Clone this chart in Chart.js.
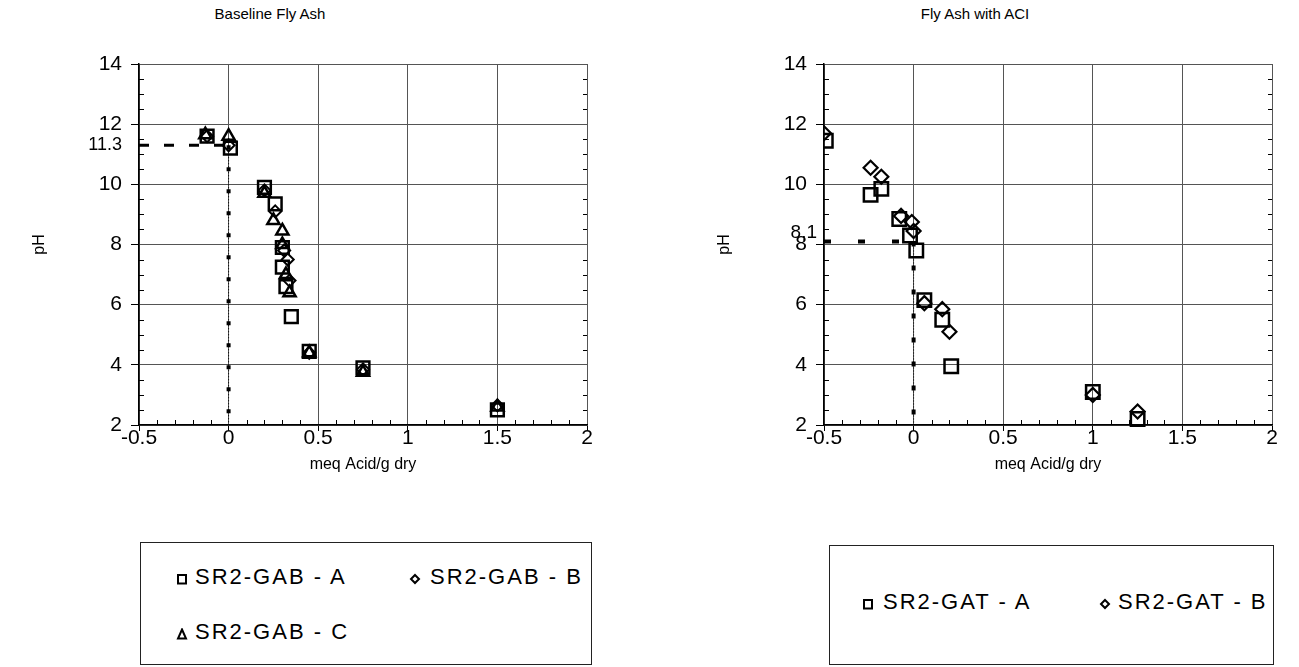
<!DOCTYPE html>
<html><head><meta charset="utf-8">
<script src="https://cdn.jsdelivr.net/npm/chart.js@4"></script>
<style>
body{margin:0;background:#fff;}
#wrap{position:relative;width:1299px;height:667px;overflow:hidden;background:#fff;font-family:"Liberation Sans",Arial,sans-serif;color:#000;}
.cv{position:absolute;top:0;}
.title{position:absolute;top:5px;font-size:15px;white-space:nowrap;transform:translateX(-50%);}
.legend{position:absolute;border:1px solid #222;box-sizing:border-box;}
.mk{position:absolute;width:12px;height:12px;}
.txt{position:absolute;font-size:22px;letter-spacing:2px;white-space:nowrap;line-height:26px;}
</style></head>
<body>
<div id="wrap">
  <div class="title" style="left:270px">Baseline Fly Ash</div>
  <div class="title" style="left:975px">Fly Ash with ACI</div>
  <div class="cv" style="left:0;width:614px;height:540px"><canvas id="c1"></canvas></div>
  <div class="cv" style="left:685px;width:614px;height:540px"><canvas id="c2"></canvas></div>
  <div class="legend" id="leg1" style="left:140px;top:542px;width:452px;height:123px"></div>
  <div class="legend" id="leg2" style="left:829px;top:545px;width:445px;height:120px"></div>
</div>
<script>
// ---- data ----
const xTicks = [-0.5, 0, 0.5, 1, 1.5, 2];
const yTicks = [2, 4, 6, 8, 10, 12, 14];

// Baseline Fly Ash
const gabA_x = [-0.12, 0.01, 0.2, 0.26, 0.3, 0.3, 0.32, 0.35, 0.45, 0.75, 1.5];
const gabA_y = [11.6, 11.2, 9.9, 9.35, 7.9, 7.25, 6.6, 5.6, 4.45, 3.9, 2.5];
const gabB_x = [-0.12, 0.0, 0.2, 0.26, 0.31, 0.33, 0.34, 0.45, 0.75, 1.5];
const gabB_y = [11.6, 11.3, 9.8, 9.1, 7.8, 7.5, 6.8, 4.4, 3.85, 2.65];
const gabC_x = [-0.13, 0.0, 0.2, 0.25, 0.3, 0.3, 0.32, 0.34, 0.45, 0.75, 1.5];
const gabC_y = [11.65, 11.6, 9.7, 8.8, 8.45, 8.0, 7.0, 6.4, 4.4, 3.75, 2.6];
const refLeftPH = 11.3;

// Fly Ash with ACI
const gatA_x = [-0.49, -0.24, -0.18, -0.08, -0.02, 0.015, 0.06, 0.16, 0.21, 1.0, 1.25];
const gatA_y = [11.45, 9.65, 9.85, 8.85, 8.3, 7.8, 6.15, 5.5, 3.95, 3.1, 2.2];
const gatB_x = [-0.5, -0.24, -0.18, -0.07, -0.01, 0.0, 0.06, 0.16, 0.2, 1.0, 1.25];
const gatB_y = [11.7, 10.55, 10.25, 8.95, 8.75, 8.45, 6.05, 5.85, 5.1, 3.0, 2.45];
const refRightPH = 8.1;
const refRightLabel = '8,1';

const namesLeft = ['SR2-GAB - A', 'SR2-GAB - B', 'SR2-GAB - C'];
const namesRight = ['SR2-GAT - A', 'SR2-GAT - B'];

// ---- helpers ----
const FONT = '"Liberation Sans", Arial, sans-serif';
const zip = (xs, ys) => xs.map((x, i) => ({x, y: ys[i]}));

function pointSet(label, xs, ys, style, r, bw, clip) {
  const d = {label, data: zip(xs, ys), pointStyle: style, pointRadius: r, pointBorderWidth: bw,
    borderColor: '#000', backgroundColor: 'rgba(255,255,255,0)', showLine: false, order: 1};
  if (clip) d.clip = clip;
  return d;
}
function refLines(ph, hDash, hW, vDash, vW) {
  return [
    {label: '_h', data: [{x: -0.5, y: ph}, {x: 0, y: ph}], showLine: true, pointRadius: 0,
     borderColor: '#000', borderWidth: hW, borderDash: hDash, order: 2},
    {label: '_v', data: [{x: 0, y: ph}, {x: 0, y: 2}], showLine: true, pointRadius: 0,
     borderColor: '#000', borderWidth: vW, borderDash: vDash, order: 2},
    {label: '_v2', data: [{x: 0, y: ph}, {x: 0, y: 2}], showLine: true, pointRadius: 0,
     borderColor: '#000', borderWidth: 1, borderDash: [1, 2], order: 2}
  ];
}

const minorTicks = {
  id: 'minorTicks',
  afterDraw(chart) {
    const {ctx, chartArea: a, scales: {x, y}} = chart;
    ctx.save();
    ctx.strokeStyle = '#000'; ctx.lineWidth = 1;
    ctx.beginPath();
    for (let k = 4; k <= 28; k++) {
      if (k % 4 === 0) continue;
      const py = Math.round(y.getPixelForValue(k / 2)) + 0.5;
      ctx.moveTo(a.left, py); ctx.lineTo(a.left + 5, py);
      ctx.moveTo(a.right, py); ctx.lineTo(a.right - 4, py);
    }
    for (let i = -5; i <= 20; i++) {
      if (i % 5 === 0) continue;
      const px = Math.round(x.getPixelForValue(i / 10)) + 0.5;
      ctx.moveTo(px, a.bottom); ctx.lineTo(px, a.bottom - 5);
    }
    ctx.stroke();
    const extra = chart.options.plugins.extraLabel;
    if (extra && extra.text) {
      ctx.fillStyle = '#000';
      ctx.font = '19px ' + FONT;
      ctx.textAlign = 'right'; ctx.textBaseline = 'middle';
      ctx.fillText(extra.text, a.left - 7, y.getPixelForValue(extra.value) - 9);
    }
    ctx.restore();
  }
};

function makeChart(id, datasets, extraTick, extraLabel) {
  return new Chart(document.getElementById(id), {
    type: 'scatter',
    data: {datasets},
    plugins: [minorTicks],
    options: {
      responsive: true, maintainAspectRatio: false, animation: false, events: [],
      layout: {padding: {top: 64, left: 0, right: 27, bottom: 0}},
      plugins: {legend: {display: false}, tooltip: {enabled: false}, extraLabel},
      scales: {
        x: {
          type: 'linear', min: xTicks[0], max: xTicks[xTicks.length - 1],
          afterBuildTicks: s => { s.ticks = xTicks.map(v => ({value: v})); },
          afterFit: s => { s.height = 115; },
          ticks: {font: {size: 21, family: FONT}, color: '#000', padding: -5, maxRotation: 0,
                  autoSkip: false, callback: v => String(v)},
          grid: {color: '#555', lineWidth: 1, tickLength: 6, tickColor: '#000'},
          border: {color: '#000', width: 1.5},
          title: {display: true, text: 'meq Acid/g dry', color: '#000',
                  font: {size: 16, family: FONT}, padding: {top: 0, bottom: 66}}
        },
        y: {
          type: 'linear', min: 2, max: 14,
          afterBuildTicks: s => {
            const t = yTicks.slice();
            if (extraTick != null) t.push(extraTick);
            t.sort((a, b) => a - b);
            s.ticks = t.map(v => ({value: v}));
          },
          afterFit: s => { s.width = 139; },
          ticks: {font: c => ({size: (c.tick && c.tick.value === extraTick) ? 18 : 21, family: FONT}),
                  color: '#000', padding: 9, autoSkip: false, callback: v => String(v)},
          grid: {color: c => (c.tick && c.tick.value === extraTick) ? 'rgba(0,0,0,0)' : '#555',
                 lineWidth: 1, tickLength: 8,
                 tickColor: c => (c.tick && c.tick.value === extraTick) ? 'rgba(0,0,0,0)' : '#000'},
          border: {color: '#000', width: 1.5},
          title: {display: true, text: 'pH', color: '#000',
                  font: {size: 16, family: FONT}, padding: {top: 30, bottom: 0}}
        }
      }
    }
  });
}

makeChart('c1', [
  ...refLines(refLeftPH, [10, 15], 3, [4, 18], 4),
  pointSet(namesLeft[0], gabA_x, gabA_y, 'rect', 9, 2.5),
  pointSet(namesLeft[1], gabB_x, gabB_y, 'rectRot', 6, 2),
  pointSet(namesLeft[2], gabC_x, gabC_y, 'triangle', 7, 2.5)
], refLeftPH, null);

makeChart('c2', [
  ...refLines(refRightPH, [7, 27], 4, [5, 19], 4),
  pointSet(namesRight[0], gatA_x, gatA_y, 'rect', 9.5, 2.5, {left: 0, top: false, right: false, bottom: false}),
  pointSet(namesRight[1], gatB_x, gatB_y, 'rectRot', 7, 2.2)
], null, {text: refRightLabel, value: refRightPH});

// ---- legends ----
const svgFor = {
  rect: '<svg width="12" height="12"><rect x="2" y="2" width="8" height="8.5" fill="none" stroke="#000" stroke-width="2"/></svg>',
  rectRot: '<svg width="12" height="12"><polygon points="6,2 10,6 6,10 2,6" fill="none" stroke="#000" stroke-width="2"/></svg>',
  triangle: '<svg width="12" height="12"><polygon points="6,1.5 10,10.5 2,10.5" fill="none" stroke="#000" stroke-width="2"/></svg>'
};
// markerCenterX, centerY relative to legend box; text starts at textX
function addItem(box, style, text, mx, cy, tx) {
  const host = document.getElementById(box);
  const m = document.createElement('div');
  m.className = 'mk'; m.style.left = (mx - 6) + 'px'; m.style.top = (cy - 6) + 'px';
  m.innerHTML = svgFor[style];
  const t = document.createElement('div');
  t.className = 'txt'; t.style.left = tx + 'px'; t.style.top = (cy - 13) + 'px';
  t.textContent = text;
  host.appendChild(m); host.appendChild(t);
}
addItem('leg1', 'rect', namesLeft[0], 41, 34, 54);
addItem('leg1', 'rectRot', namesLeft[1], 274, 34, 289);
addItem('leg1', 'triangle', namesLeft[2], 41, 89, 54);
addItem('leg2', 'rect', namesRight[0], 38, 56, 53);
addItem('leg2', 'rectRot', namesRight[1], 275, 56, 288);
</script>
</body></html>
